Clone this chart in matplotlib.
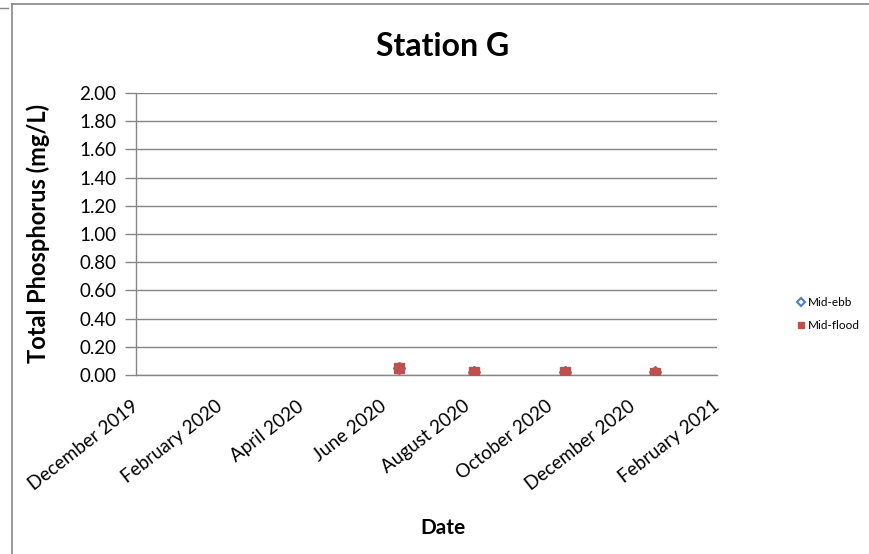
import matplotlib
matplotlib.use("Agg")
import matplotlib.pyplot as plt
from matplotlib.lines import Line2D
import datetime as dt

plt.rcParams['font.family'] = ['Lato', 'DejaVu Sans']

title = "Station G"
ylabel = "Total Phosphorus (mg/L)"
xlabel = "Date"
sample_dates = [dt.date(2020, 6, 12), dt.date(2020, 8, 6), dt.date(2020, 10, 12), dt.date(2020, 12, 17)]
mid_ebb = [0.05, 0.02, 0.02, 0.02]
mid_flood = [0.05, 0.02, 0.02, 0.015]
tick_dates = [dt.date(2019, 12, 1), dt.date(2020, 2, 1), dt.date(2020, 4, 1), dt.date(2020, 6, 1),
              dt.date(2020, 8, 1), dt.date(2020, 10, 1), dt.date(2020, 12, 1), dt.date(2021, 2, 1)]
tick_labels = ["December 2019", "February 2020", "April 2020", "June 2020",
               "August 2020", "October 2020", "December 2020", "February 2021"]
yticks = [0.0, 0.2, 0.4, 0.6, 0.8, 1.0, 1.2, 1.4, 1.6, 1.8, 2.0]

W, H = 870, 554
fig = plt.figure(figsize=(W / 100, H / 100), dpi=100)
ax = fig.add_axes([136 / W, 1 - 375 / H, (717 - 136) / W, (375 - 93) / H])

ax.plot(sample_dates, mid_ebb, linestyle='none', marker='D', markersize=6,
        color='#4F81BD', markeredgecolor='#4F81BD', zorder=3)
ax.plot(sample_dates, mid_flood, linestyle='none', marker='s', markersize=6.5,
        color='#C0504D', markeredgecolor='#C0504D', zorder=4)

ax.set_xlim(tick_dates[0], tick_dates[-1])
ax.set_ylim(0, 2.0)
ax.set_yticks(yticks)
ax.set_yticklabels([f"{v:.2f}" for v in yticks], fontsize=13.5)
ax.set_xticks(tick_dates)
ax.set_xticklabels(tick_labels, fontsize=13.5, rotation=38, ha='right', va='center',
                   rotation_mode='anchor')
ax.tick_params(axis='x', length=0, pad=21)
ax.tick_params(axis='y', length=8, color='#868686', width=1, pad=6, direction='out')
ax.grid(axis='y', color='#868686', linewidth=1)
ax.set_axisbelow(True)
for s in ['top', 'right']:
    ax.spines[s].set_visible(False)
for s in ['left', 'bottom']:
    ax.spines[s].set_color('#868686')
    ax.spines[s].set_linewidth(1)

fig.text(443 / W, 1 - 46 / H, title, fontsize=23, fontweight='bold', ha='center', va='center')
fig.text(38 / W, 1 - 233 / H, ylabel, fontsize=17, fontweight='bold', rotation=90,
         ha='center', va='center')
fig.text(443 / W, 1 - 528 / H, xlabel, fontsize=15, fontweight='bold', ha='center', va='center')

handles = [Line2D([], [], linestyle='none', marker='D', markersize=4, markerfacecolor='white',
                  markeredgecolor='#4F81BD', markeredgewidth=1.5),
           Line2D([], [], linestyle='none', marker='s', markersize=5, color='#C0504D')]
fig.legend(handles, ["Mid-ebb", "Mid-flood"], loc='center left',
           bbox_to_anchor=(784 / W, 1 - 314 / H), frameon=False, fontsize=8.5,
           handletextpad=0.1, labelspacing=1.0, handlelength=1.0)

# chart border
fig.add_artist(Line2D([12 / W, 12 / W], [0, 1 - 4 / H], color='#868686', linewidth=1.2,
                      transform=fig.transFigure))
fig.add_artist(Line2D([12 / W, 1], [1 - 4 / H, 1 - 4 / H], color='#868686', linewidth=1.2,
                      transform=fig.transFigure))
fig.add_artist(Line2D([0, 8 / W], [1 - 8 / H, 1 - 8 / H], color='#868686', linewidth=1.0,
                      transform=fig.transFigure))

fig.savefig("out.png", dpi=100)
